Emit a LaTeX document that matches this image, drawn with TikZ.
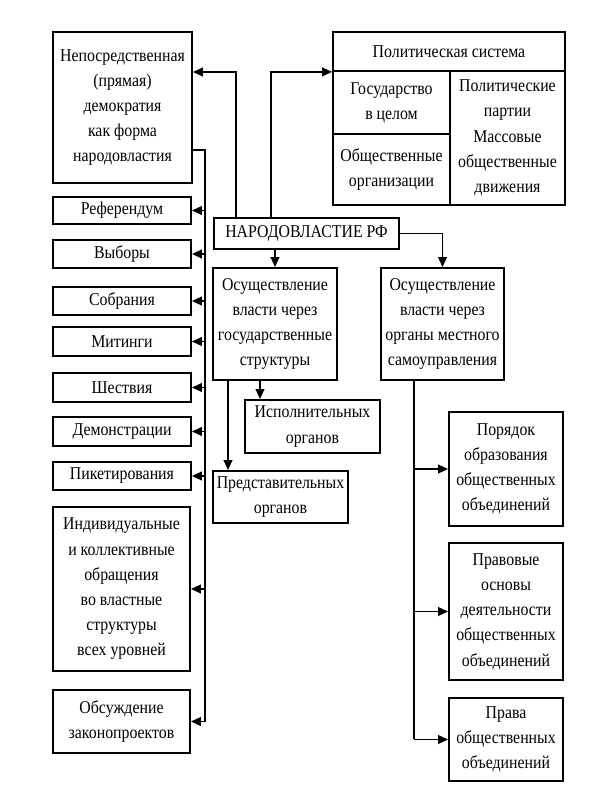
\documentclass[tikz,border=0pt]{standalone}
\usepackage{fontspec}
\setmainfont{Liberation Serif}[FakeStretch=0.88]
\usetikzlibrary{arrows.meta}
\tikzset{
  box/.style={draw, line width=1.35pt, align=center, inner sep=0pt, fill=white,
    font=\fontsize{13.5}{18.9}\selectfont},
  arr/.style={line width=1.35pt, -{Triangle[length=7.5pt,width=6.5pt]}},
  bus/.style={line width=1.35pt},
}
\newcommand\bx[6]{\node[box, minimum width={(#4-#2)*0.75pt}, minimum height={(#5-#3)*0.75pt}] (#1) at ({(#2+#4)/2},{(#3+#5)/2}) {#6};}
\begin{document}
\begin{tikzpicture}[x=0.75pt,y=-0.75pt]
\useasboundingbox[fill=white] (0,0) rectangle (613,803);
% left column
\bx{direct}{53}{32}{192}{183}{Непосредственная\\(прямая)\\демократия\\как форма\\народовластия}
\bx{ref}{53}{197}{191}{224}{Референдум}
\bx{vyb}{53}{240}{191}{268}{Выборы}
\bx{sobr}{53}{287}{191}{315}{Собрания}
\bx{mit}{53}{327}{191}{356}{Митинги}
\bx{shest}{53}{373}{191}{402}{Шествия}
\bx{dem}{53}{417}{191}{446}{Демонстрации}
\bx{pik}{53}{462}{191}{490}{Пикетирования}
\bx{ind}{53}{507}{190}{671}{Индивидуальные\\и коллективные\\обращения\\во властные\\структуры\\всех уровней}
\bx{obs}{53}{690}{190}{753}{Обсуждение\\законопроектов}
% political system
\bx{polhead}{333}{32}{565}{71}{Политическая система}
\bx{state}{333}{71}{450}{134}{Государство\\в целом}
\bx{pubo}{333}{134}{450}{205}{Общественные\\организации}
\bx{parties}{450}{71}{565}{205}{Политические\\партии\\Массовые\\общественные\\движения}
% centre
\bx{nar}{214}{218}{399}{249}{НАРОДОВЛАСТИЕ РФ}
\bx{gos}{213}{268}{337}{380}{Осуществление\\власти через\\государственные\\структуры}
\bx{mest}{381}{268}{504}{380}{Осуществление\\власти через\\органы местного\\самоуправления}
\bx{isp}{245}{400}{380}{453}{Исполнительных\\органов}
\bx{pred}{213}{471}{348}{523}{Представительных\\органов}
% right column
\bx{por}{449}{412}{563}{526}{Порядок\\образования\\общественных\\объединений}
\bx{pravo}{449}{543}{563}{680}{Правовые\\основы\\деятельности\\общественных\\объединений}
\bx{prava}{449}{698}{563}{781}{Права\\общественных\\объединений}
% helper coordinates
\coordinate (up1) at (236,72);
\coordinate (up2) at (271,72);
\coordinate (bl) at (205,150);
\coordinate (br) at (414,739);
\coordinate (c260) at (260,0);
\coordinate (c228) at (228,0);
% connectors from the top box
\draw[arr] (nar.north -| up1) |- (direct.east |- up1);
\draw[arr] (nar.north -| up2) |- (polhead.south west);
\draw[arr] (nar.east) -| (mest.north);
\draw[arr] (nar.south -| gos.north) -- (gos.north);
\draw[arr] (gos.south -| c260) -- (isp.north -| c260);
\draw[arr] (gos.south -| c228) -- (pred.north -| c228);
% left bus
\draw[bus] (direct.east |- bl) -- (bl) -- (bl |- obs.east);
\foreach \n in {ref,vyb,sobr,mit,shest,dem,pik,ind,obs}
  \draw[arr] (bl |- \n.east) -- (\n.east);
% right bus
\draw[bus] (mest.south -| br) -- (br);
\foreach \n in {por,pravo,prava}
  \draw[arr] (br |- \n.west) -- (\n.west);
\end{tikzpicture}
\end{document}
